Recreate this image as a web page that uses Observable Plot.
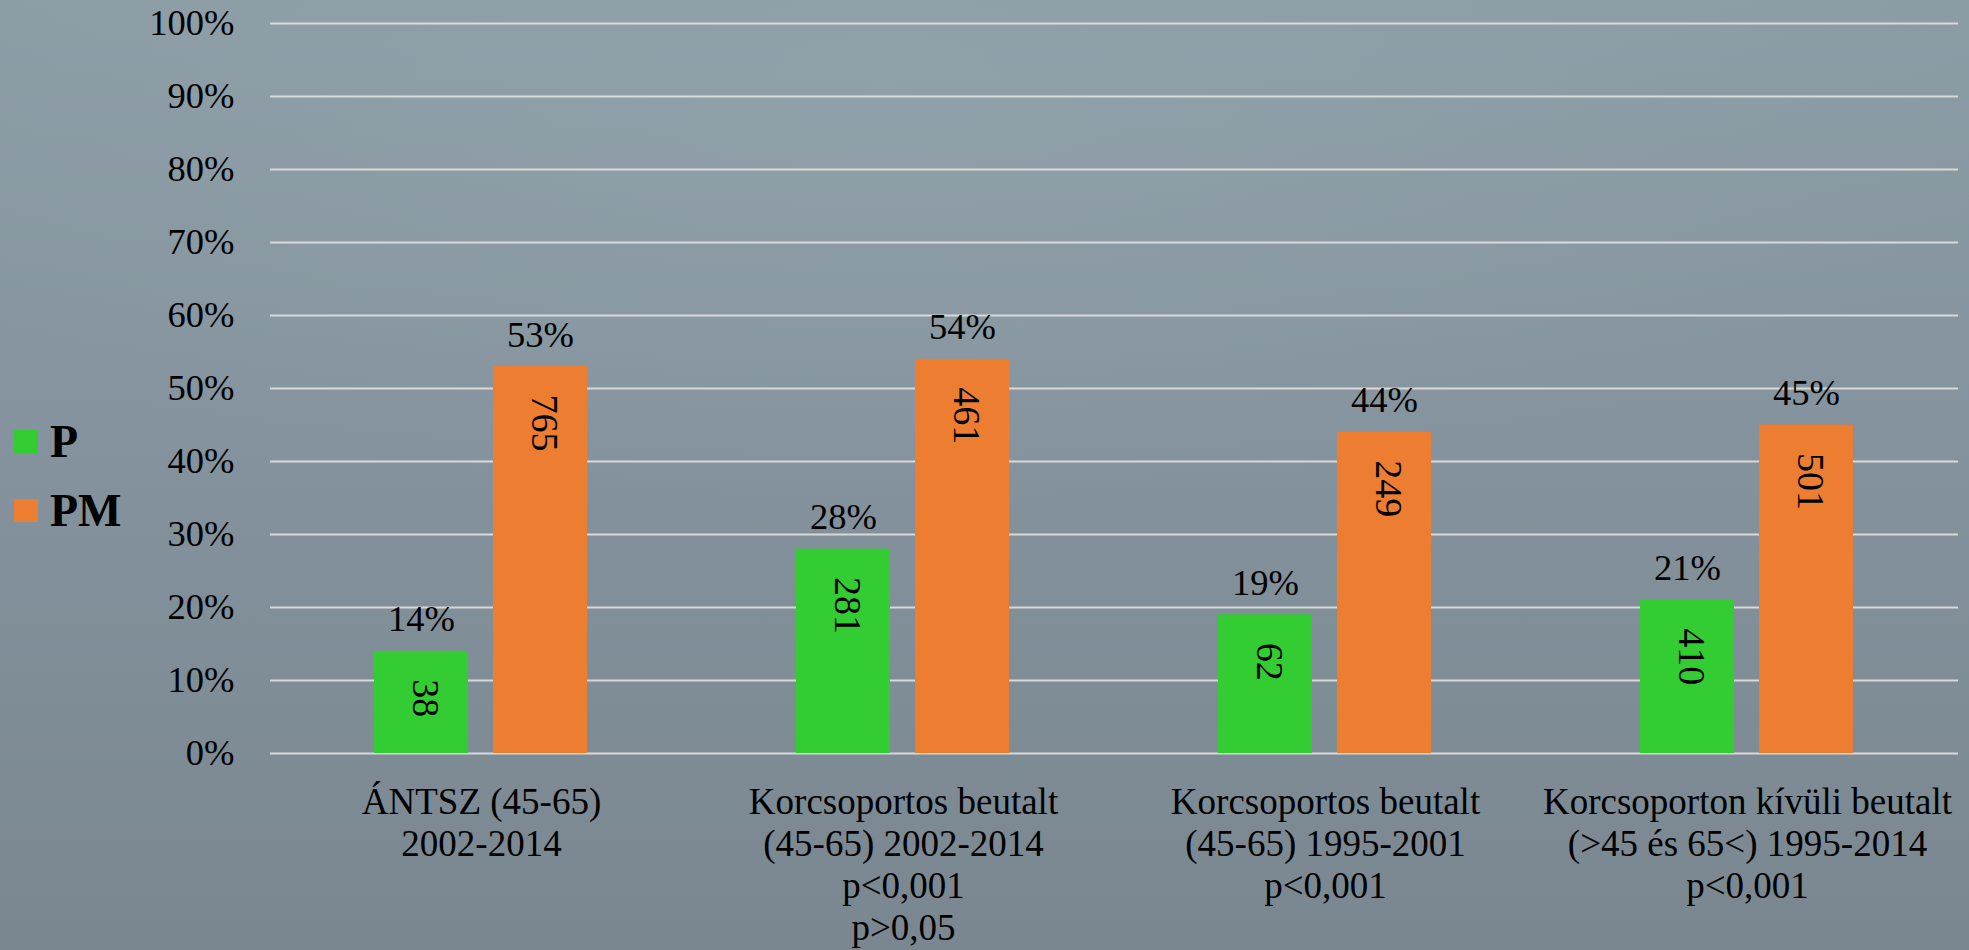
<!DOCTYPE html>
<html>
<head>
<meta charset="utf-8">
<script src="https://cdn.jsdelivr.net/npm/d3@7"></script>
<script src="https://cdn.jsdelivr.net/npm/@observablehq/plot@0.6"></script>
<style>
  html, body { margin: 0; padding: 0; }
  body {
    width: 1969px; height: 950px; overflow: hidden; position: relative;
    background:
      radial-gradient(ellipse 60% 45% at 45% 8%, rgba(150,166,175,0.55) 0%, rgba(150,166,175,0) 100%),
      linear-gradient(180deg, #8c9ca5 0%, #84939d 45%, #7a8791 100%);
    font-family: "Liberation Serif", "Times New Roman", serif;
  }
  #chart { position: absolute; left: 0; top: 0; }
  #legend { position: absolute; left: 0; top: 0; }
  .item { position: absolute; left: 14px; height: 46px; font-size: 46px; line-height: 46px; font-weight: bold; color: #000; white-space: nowrap; }
  .sw { position: absolute; left: 0; top: 11px; width: 24px; height: 23px; }
  .lbl { position: absolute; left: 36px; top: 0; }
</style>
</head>
<body>
<div id="chart"></div>
<div id="legend"></div>
<script>
const groups = [
  "ÁNTSZ (45-65)\n2002-2014",
  "Korcsoportos beutalt\n(45-65) 2002-2014\np<0,001\np>0,05",
  "Korcsoportos beutalt\n(45-65) 1995-2001\np<0,001",
  "Korcsoporton kívüli beutalt\n(>45 és 65<) 1995-2014\np<0,001"
];
const series = ["P", "PM"];
const seriesColors = ["#33cc33", "#ed7d31"];
const pPercent = [14, 28, 19, 21];
const pmPercent = [53, 54, 44, 45];
const pCounts = [38, 281, 62, 410];
const pmCounts = [765, 461, 249, 501];
const yTicks = [0, 10, 20, 30, 40, 50, 60, 70, 80, 90, 100];

const data = [];
groups.forEach((g, i) => {
  data.push({group: g, series: "P", value: pPercent[i], count: pCounts[i]});
  data.push({group: g, series: "PM", value: pmPercent[i], count: pmCounts[i]});
});

const FS = 36.5;

const chart = Plot.plot({
  width: 1969,
  height: 950,
  marginLeft: 270,
  marginRight: 11,
  marginTop: 23,
  marginBottom: 197,
  style: {
    background: "transparent",
    fontFamily: "'Liberation Serif', 'Times New Roman', serif",
    fontSize: FS + "px",
    color: "#000",
    overflow: "visible"
  },
  fx: {domain: groups, padding: 0, label: null},
  x: {domain: series, paddingInner: 0.208, paddingOuter: 0.8625, axis: null},
  y: {domain: [0, 100], label: null},
  color: {domain: series, range: seriesColors},
  marks: [
    Plot.gridY(yTicks, {stroke: "#d9d9d9", strokeOpacity: 1, strokeWidth: 2}),
    Plot.axisY(yTicks, {tickFormat: d => d + "%", tickSize: 0, tickPadding: 36, fontSize: FS, fill: "#000", label: null}),
    Plot.axisFx({anchor: "bottom", tickSize: 0, tickPadding: 31, lineHeight: 1.135, fontSize: 37, fill: "#000", label: null}),
    Plot.barY(data, {fx: "group", x: "series", y: "value", fill: "series"}),
    Plot.text(data, {fx: "group", x: "series", y: "value", text: d => d.value + "%", lineAnchor: "bottom", dy: -20, fontSize: FS, fill: "#000"}),
    Plot.text(data, {fx: "group", x: "series", y: "value", text: d => String(d.count), rotate: 90, textAnchor: "start", dy: 28, dx: 4, fontSize: 38, fill: "#000"})
  ]
});
document.getElementById("chart").appendChild(chart);

const legend = document.getElementById("legend");
series.forEach((s, i) => {
  const item = document.createElement("div");
  item.className = "item";
  item.style.top = (419 + i * 69) + "px";
  const sw = document.createElement("div");
  sw.className = "sw";
  sw.style.background = seriesColors[i];
  const lbl = document.createElement("span");
  lbl.className = "lbl";
  lbl.textContent = s;
  item.appendChild(sw);
  item.appendChild(lbl);
  legend.appendChild(item);
});
</script>
</body>
</html>
